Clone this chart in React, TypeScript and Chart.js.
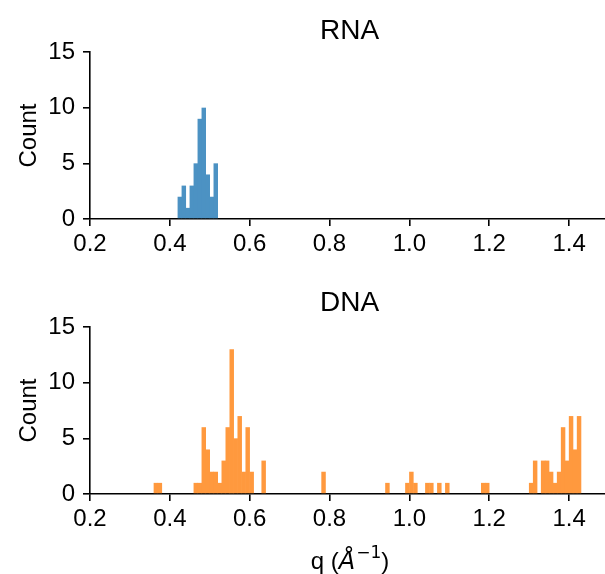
import React, { useEffect, useRef } from "react";
import { Chart, registerables } from "chart.js";

Chart.register(...registerables);

// ---- data ----
const xTickValues = [0.2, 0.4, 0.6, 0.8, 1.0, 1.2, 1.4];
const yTickValues = [0, 5, 10, 15];

const rnaBinStarts = [0.42, 0.43, 0.44, 0.45, 0.46, 0.47, 0.48, 0.49, 0.5, 0.51];
const rnaCounts = [2, 3, 1, 3, 5, 9, 10, 4, 2, 5];

const dnaBinStarts = [
  0.36, 0.37, 0.46, 0.47, 0.48, 0.49, 0.5, 0.51, 0.52, 0.53, 0.54, 0.55, 0.56, 0.57,
  0.58, 0.59, 0.6, 0.63, 0.78, 0.94, 0.99, 1.0, 1.01, 1.04, 1.05, 1.07, 1.09, 1.18,
  1.19, 1.3, 1.31, 1.33, 1.34, 1.35, 1.36, 1.37, 1.38, 1.39, 1.4, 1.41, 1.42,
];
const dnaCounts = [
  1, 1, 1, 1, 6, 4, 2, 2, 1, 3, 6, 13, 5, 7,
  2, 6, 2, 3, 2, 1, 1, 2, 1, 1, 1, 1, 1, 1,
  1, 1, 3, 3, 3, 2, 1, 2, 6, 3, 7, 4, 7,
];
const binWidth = 0.01;

const FAM = "'Liberation Sans', Arial, sans-serif";
const TICK_FS = 24;
const TITLE_FS = 28;
const LABEL_FS = 24;

const panelTitlePlugin = {
  id: "panelTitle",
  afterDraw(chart: any) {
    const o = chart.options.plugins.panelTitle;
    if (!o || !o.text) return;
    const ctx = chart.ctx;
    const ca = chart.chartArea;
    ctx.save();
    ctx.fillStyle = "#000";
    ctx.font = `${TITLE_FS}px ${FAM}`;
    ctx.textAlign = "center";
    ctx.textBaseline = "alphabetic";
    ctx.fillText(o.text, (ca.left + ca.right) / 2, o.y);
    ctx.restore();
  },
};

const xLabelPlugin = {
  id: "xLabel",
  afterDraw(chart: any) {
    const o = chart.options.plugins.xLabel;
    if (!o || !o.show) return;
    const ctx = chart.ctx;
    const ca = chart.chartArea;
    const parts = [
      { t: "q (", f: `${LABEL_FS}px ${FAM}`, dy: 0 },
      { t: "Å", f: `italic ${LABEL_FS}px 'DejaVu Sans'`, dy: 0 },
      { t: "−1", f: `${Math.round(LABEL_FS * 0.7)}px 'DejaVu Sans'`, dy: -LABEL_FS * 0.45 },
      { t: ")", f: `${LABEL_FS}px ${FAM}`, dy: 0 },
    ];
    ctx.save();
    ctx.fillStyle = "#000";
    ctx.textAlign = "left";
    ctx.textBaseline = "alphabetic";
    let total = 0;
    const widths: number[] = [];
    for (const p of parts) {
      ctx.font = p.f;
      const w = ctx.measureText(p.t).width;
      widths.push(w);
      total += w;
    }
    let x = (ca.left + ca.right) / 2 - total / 2;
    parts.forEach((p, i) => {
      ctx.font = p.f;
      ctx.fillText(p.t, x, o.y + p.dy);
      x += widths[i] + (i === 1 ? 1 : 0);
    });
    ctx.restore();
  },
};

function makeConfig(
  starts: number[],
  counts: number[],
  color: string,
  title: string,
  titleY: number,
  topPad: number,
  xAxisHeight: number,
  showXLabel: boolean,
  xLabelY: number
): any {
  const data = starts.map((s, i) => ({ x: s + binWidth / 2, y: counts[i] }));
  const gridOpts = {
    drawOnChartArea: false,
    drawTicks: true,
    offset: false,
    tickLength: 7,
    color: "#000",
    lineWidth: 1.6,
  };
  return {
    type: "bar",
    data: {
      datasets: [
        {
          data,
          backgroundColor: color,
          borderWidth: 0,
          barPercentage: 1.12,
          categoryPercentage: 1,
        },
      ],
    },
    options: {
      animation: false,
      responsive: false,
      maintainAspectRatio: false,
      layout: { padding: { top: topPad, left: 0, right: 0, bottom: 0 } },
      plugins: {
        legend: { display: false },
        tooltip: { enabled: false },
        title: { display: false },
        panelTitle: { text: title, y: titleY },
        xLabel: { show: showXLabel, y: xLabelY },
      },
      scales: {
        x: {
          type: "linear",
          min: 0.2,
          max: 1.5,
          offset: false,
          afterBuildTicks: (s: any) => {
            s.ticks = xTickValues.map((v) => ({ value: v }));
          },
          afterFit: (s: any) => {
            s.height = xAxisHeight;
          },
          ticks: {
            autoSkip: false,
            maxRotation: 0,
            color: "#000",
            padding: 4,
            font: { family: FAM, size: TICK_FS },
            callback: (v: any) => Number(v).toFixed(1),
          },
          grid: gridOpts,
          border: { display: true, color: "#000", width: 1.6 },
        },
        y: {
          type: "linear",
          min: 0,
          max: 15,
          afterBuildTicks: (s: any) => {
            s.ticks = yTickValues.map((v) => ({ value: v }));
          },
          afterFit: (s: any) => {
            s.width = 90;
          },
          ticks: {
            color: "#000",
            padding: 8,
            font: { family: FAM, size: TICK_FS },
            callback: (v: any) => String(v),
          },
          grid: gridOpts,
          border: { display: true, color: "#000", width: 1.6 },
          title: {
            display: true,
            text: "Count",
            color: "#000",
            font: { family: FAM, size: LABEL_FS },
            padding: { top: 15, bottom: 0 },
          },
        },
      },
    },
    plugins: [panelTitlePlugin, xLabelPlugin],
  };
}

function Panel(props: { config: any; top: number; height: number }) {
  const ref = useRef<HTMLCanvasElement | null>(null);
  useEffect(() => {
    if (!ref.current) return;
    const chart = new Chart(ref.current, props.config);
    return () => chart.destroy();
  }, []);
  return (
    <canvas
      ref={ref}
      width={609}
      height={props.height}
      style={{ position: "absolute", left: 0, top: props.top, width: 609, height: props.height }}
    />
  );
}

export default function App() {
  const rnaConfig = makeConfig(
    rnaBinStarts, rnaCounts, "#4c92c3", "RNA", 39, 52, 61, false, 0
  );
  const dnaConfig = makeConfig(
    dnaBinStarts, dnaCounts, "#ff993e", "DNA", 31, 47, 80, true, 289
  );
  return (
    <div
      style={{
        position: "absolute",
        left: 0,
        top: 0,
        width: 605,
        height: 574,
        overflow: "hidden",
        background: "#fff",
      }}
    >
      <Panel config={rnaConfig} top={0} height={280} />
      <Panel config={dnaConfig} top={280} height={294} />
    </div>
  );
}
